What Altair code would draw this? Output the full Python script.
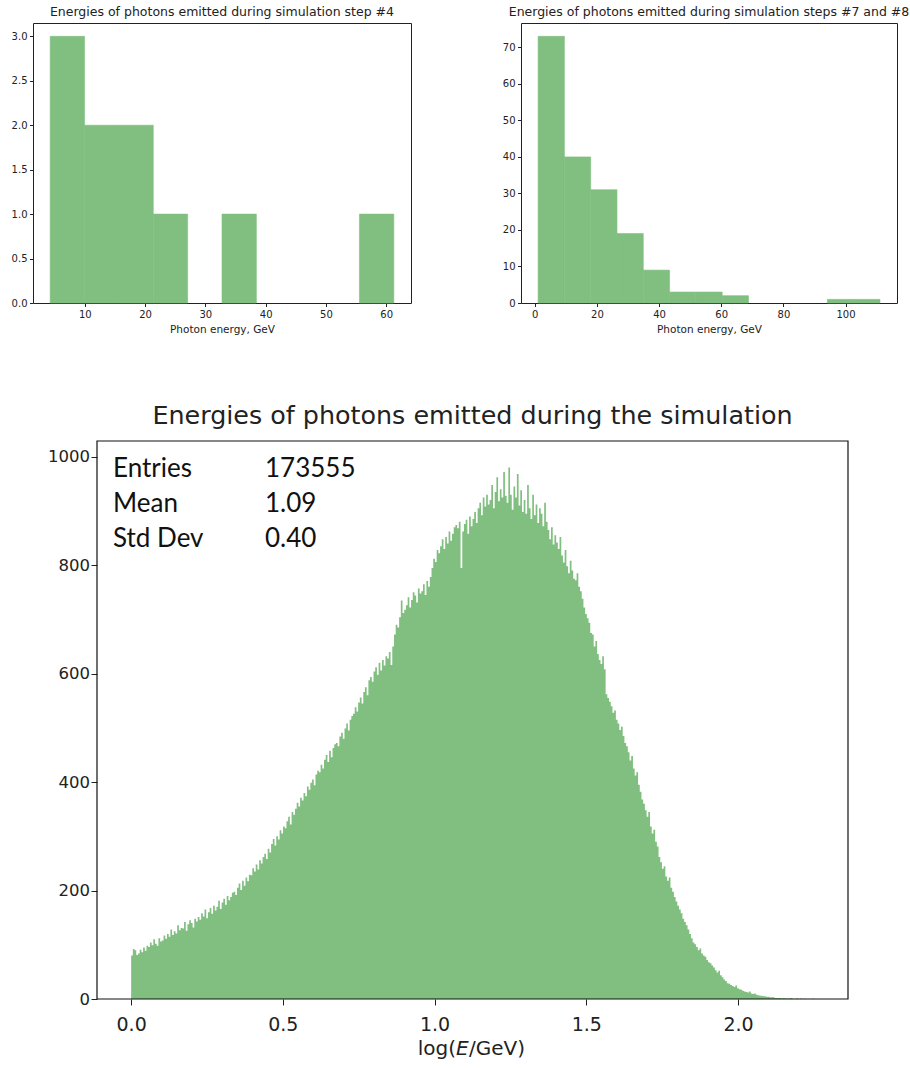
import altair as alt
import pandas as pd

FONT = "DejaVu Sans"
GREEN = "#80bf80"
INK = "#222222"

# ---------- panel A: step #4 ----------
a_title = "Energies of photons emitted during simulation step #4"
a_edges = [4.26, 9.96, 15.66, 21.36, 27.06, 32.76, 38.46, 44.16, 49.86, 55.56, 61.26]
a_counts = [3, 2, 2, 1, 0, 1, 0, 0, 0, 1]
a_xticks = [10, 20, 30, 40, 50, 60]
a_yticks = [0.0, 0.5, 1.0, 1.5, 2.0, 2.5, 3.0]

# ---------- panel B: steps #7 and #8 ----------
b_title = "Energies of photons emitted during simulation steps #7 and #8"
b_edges = [1.08, 9.54, 18.00, 26.46, 34.92, 43.38, 51.84, 60.30, 68.76, 77.22,
           85.68, 94.14, 102.60, 111.06]
b_counts = [73, 40, 31, 19, 9, 3, 3, 2, 0, 0, 0, 1, 1]
b_xticks = [0, 20, 40, 60, 80, 100]
b_yticks = [0, 10, 20, 30, 40, 50, 60, 70]

# ---------- panel C: whole simulation, log10(E/GeV) ----------
c_title = "Energies of photons emitted during the simulation"
c_range = (0.0, 2.25)
c_counts = [
    80, 92, 90, 81, 84, 91, 86, 95, 89, 98,
    96, 104, 99, 110, 102, 98, 112, 106, 108, 117,
    111, 120, 115, 128, 118, 125, 121, 136, 127, 131,
    130, 142, 126, 138, 145, 140, 132, 148, 143, 151,
    146, 158, 152, 165, 149, 160, 168, 157, 172, 163,
    170, 181, 166, 178, 185, 174, 190, 182, 188, 196,
    198, 192, 205, 213, 201, 218, 209, 224, 217, 229,
    228, 241, 235, 248, 239, 256, 250, 262, 268, 258,
    277, 270, 286, 295, 283, 300, 294, 311, 305, 318,
    315, 328, 336, 322, 345, 340, 351, 362, 355, 371,
    366, 380, 374, 392, 386, 399, 405, 394, 414, 421,
    418, 432, 425, 441, 450, 437, 458, 446, 463, 470,
    472, 466, 484, 491, 480, 499, 508, 495, 515, 522,
    526, 538, 530, 547, 556, 545, 566, 575, 560, 588,
    594, 585, 604, 612, 598, 620, 606, 625, 615, 632,
    628, 640, 616, 650, 672, 690, 685, 704, 735, 712,
    718, 726, 741, 722, 736, 750, 744, 731, 757, 748,
    752, 765, 745, 771, 760, 778, 795, 812, 806, 828,
    822, 835, 848, 830, 852, 840, 862, 845, 858, 870,
    874, 868, 880, 795, 862, 876, 884, 858, 890, 872,
    885, 898, 878, 905, 915, 892, 925, 908, 930, 912,
    920, 948, 905, 935, 962, 918, 940, 925, 972, 928,
    915, 980, 930, 902, 945, 925, 968, 910, 938, 898,
    920, 895, 948, 905, 885, 930, 892, 912, 878, 905,
    895, 872, 915, 880, 865, 848, 870, 838, 855, 842,
    830, 852, 818, 805, 828, 798, 785, 808, 790, 775,
    772, 785, 760, 752, 738, 722, 710, 702, 694, 675,
    672, 650, 660, 636, 625, 618, 632, 608, 562, 555,
    548, 540, 528, 532, 515, 508, 496, 502, 485, 472,
    466, 455, 440, 448, 425, 412, 418, 395, 382, 368,
    360, 348, 336, 345, 318, 305, 312, 290, 281, 262,
    252, 240, 245, 226, 218, 224, 205, 198, 188, 180,
    172, 165, 158, 148, 142, 136, 128, 120, 112, 104,
    101, 96, 90, 93, 84, 80, 78, 72, 68, 66,
    62, 58, 53, 49, 52, 44, 40, 36, 33, 29,
    28, 26, 24, 22, 25, 20, 18, 17, 15, 14,
    13, 12, 14, 10, 9, 10, 8, 7, 6, 6,
    5, 5, 4, 4, 3, 3, 3, 2, 2, 2,
    2, 1, 2, 1, 1, 1, 2, 1, 0, 1,
    1, 0, 1, 0, 1, 0, 0, 0, 0, 1,
]
c_xticks = [0.0, 0.5, 1.0, 1.5, 2.0]
c_yticks = [0, 200, 400, 600, 800, 1000]
stat_names = ["Entries", "Mean", "Std Dev"]
stat_values = ["173555", "1.09", "0.40"]

# the lower panel's view starts where the upper-left plot starts;
# its frame and data are inset by SHIFT pixels
SHIFT = 64
C_W, C_H = 815, 558


def small_hist(edges, counts, title, width, xdom, xticks, ydom, yticks, yfmt, yext):
    df = pd.DataFrame({"lo": edges[:-1], "hi": edges[1:], "n": counts})
    df = df[df["n"] > 0]  # empty bins draw nothing
    return (
        alt.Chart(df)
        .mark_bar(color=GREEN, stroke=GREEN, strokeWidth=0.6)
        .encode(
            x=alt.X("lo:Q",
                    scale=alt.Scale(domain=xdom, nice=False, zero=False),
                    axis=alt.Axis(values=xticks, format="d", title="Photon energy, GeV",
                                  tickSize=3.5, labelFontSize=10, labelPadding=3,
                                  titleFontSize=10.5, titlePadding=5)),
            x2="hi:Q",
            y=alt.Y("n:Q",
                    scale=alt.Scale(domain=ydom, nice=False),
                    axis=alt.Axis(values=yticks, format=yfmt, title=None,
                                  tickSize=3.5, labelFontSize=10, labelPadding=2.5,
                                  minExtent=yext, maxExtent=yext)),
            y2=alt.datum(0),
        )
        .properties(width=width, height=280,
                    title=alt.TitleParams(title, fontSize=12.5, offset=5))
    )


chart_a = small_hist(a_edges, a_counts, a_title, 378, [1.41, 64.11], a_xticks,
                     [0, 3.15], a_yticks, ".1f", 22)
chart_b = small_hist(b_edges, b_counts, b_title, 376, [-4.42, 116.55], b_xticks,
                     [0, 76.65], b_yticks, "d", 25)

# histogram outline as a step area: one point per bin's left edge plus the final edge
n_bins = len(c_counts)
step = (c_range[1] - c_range[0]) / n_bins
c_df = pd.DataFrame({
    "edge": [c_range[0] + i * step for i in range(n_bins)] + [c_range[1]],
    "n": c_counts + [c_counts[-1]],
})

hist = alt.Chart(c_df).mark_area(color=GREEN, interpolate="step-after").encode(
    x=alt.X("edge:Q",
            scale=alt.Scale(domain=[-0.1125, 2.3625], nice=False, zero=False,
                            range=[SHIFT, C_W]),
            axis=alt.Axis(values=c_xticks, format=".1f", title=None,
                          tickSize=6, labelFontSize=19, labelPadding=10)),
    y=alt.Y("n:Q",
            scale=alt.Scale(domain=[0, 1029], nice=False),
            axis=alt.Axis(values=c_yticks, format="d", title=None, offset=-SHIFT,
                          tickSize=6, labelFontSize=16.5, labelPadding=1.5)),
)

one = pd.DataFrame({"k": [0]})
frame = alt.Chart(one).mark_rect(fillOpacity=0, stroke="#111111", strokeWidth=1.2).encode(
    x=alt.value(SHIFT), x2=alt.value(C_W), y=alt.value(0), y2=alt.value(C_H))

names = alt.Chart(one).mark_text(
    text=stat_names, font="Lato", fontSize=26, align="left", baseline="alphabetic",
    lineHeight=35, color="#111111",
).encode(x=alt.value(SHIFT + 16), y=alt.value(36))
vals = alt.Chart(one).mark_text(
    text=stat_values, font="Lato", fontSize=26, align="left", baseline="alphabetic",
    lineHeight=35, color="#111111",
).encode(x=alt.value(SHIFT + 168), y=alt.value(36))

xt1 = alt.Chart(one).mark_text(text="log(", font=FONT, fontSize=20, align="right",
                               baseline="alphabetic", color=INK).encode(
    x=alt.value(SHIFT + 359), y=alt.value(614))
xt2 = alt.Chart(one).mark_text(text="E", font=FONT, fontSize=20, fontStyle="italic",
                               align="left", baseline="alphabetic", color=INK).encode(
    x=alt.value(SHIFT + 359), y=alt.value(614))
xt3 = alt.Chart(one).mark_text(text="/GeV)", font=FONT, fontSize=20, align="left",
                               baseline="alphabetic", color=INK).encode(
    x=alt.value(SHIFT + 372), y=alt.value(614))

chart_c = alt.layer(hist, frame, names, vals, xt1, xt2, xt3).properties(
    width=C_W, height=C_H,
    view=alt.ViewBackground(stroke="transparent"),
    title=alt.TitleParams(c_title, fontSize=25.4, offset=11, dx=SHIFT / 2),
)

top = alt.hconcat(chart_a, chart_b, spacing=83)
chart = (
    alt.vconcat(top, chart_c, spacing=67)
    .properties(padding={"left": 10, "top": 5, "right": 0, "bottom": 5})
    .configure_view(stroke=INK, strokeWidth=1)
    .configure_axis(domain=False, grid=False, tickColor=INK, labelColor=INK,
                    titleColor=INK, labelFont=FONT, titleFont=FONT,
                    titleFontWeight="normal")
    .configure_title(font=FONT, fontWeight="normal", color=INK, anchor="middle")
)

chart.save("out.html", embed_options={"renderer": "svg", "actions": False})
